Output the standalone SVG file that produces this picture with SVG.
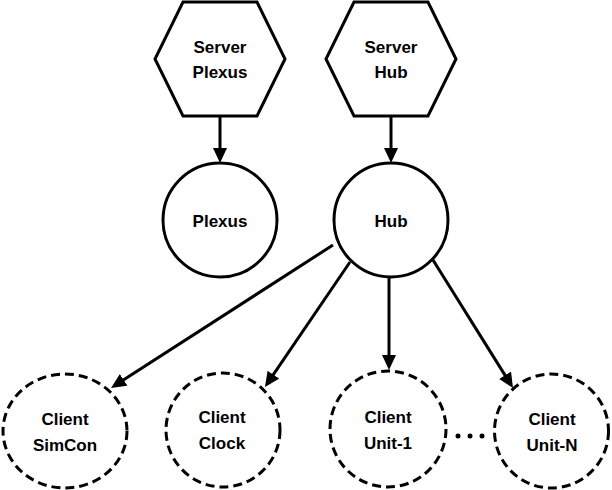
<svg xmlns="http://www.w3.org/2000/svg" width="612" height="490" viewBox="0 0 612 490">
<style>
.shape{fill:#fff;stroke:#000;stroke-width:3}
.dash{fill:#fff;stroke:#000;stroke-width:3;stroke-dasharray:9 5}
.lbl{font-family:"Liberation Sans",Arial,sans-serif;font-weight:bold;font-size:17px;text-anchor:middle;fill:#000}
.edge{stroke:#000;stroke-width:3;fill:none;marker-end:url(#arr)}
</style>
<defs>
<marker id="arr" markerUnits="userSpaceOnUse" markerWidth="16" markerHeight="15" refX="11" refY="7" orient="auto">
<path d="M0,0 L15,7 L0,14 z" fill="#000"/>
</marker>
</defs>
<rect width="612" height="490" fill="#fff"/>
<g id="connectors">
<line class="edge" x1="220" y1="117" x2="220" y2="159"/>
<line class="edge" x1="391" y1="117" x2="391" y2="159"/>
<line class="edge" x1="333" y1="245" x2="114.4" y2="385.8"/>
<line class="edge" x1="350" y1="262" x2="267.2" y2="383.7"/>
<line class="edge" x1="389" y1="277" x2="389" y2="366"/>
<line class="edge" x1="433" y1="260" x2="510.9" y2="384.6"/>
</g>
<g id="server-plexus">
<polygon class="shape" points="183,2 257,2 285,59 257,116 183,116 155,59"/>
<text class="lbl" x="220" y="53">Server</text>
<text class="lbl" x="220" y="78">Plexus</text>
</g>
<g id="server-hub">
<polygon class="shape" points="354,2 428,2 456,59 428,116 354,116 326,59"/>
<text class="lbl" x="391" y="53">Server</text>
<text class="lbl" x="391" y="78">Hub</text>
</g>
<g id="plexus">
<circle class="shape" cx="220" cy="220" r="57"/>
<text class="lbl" x="220" y="227">Plexus</text>
</g>
<g id="hub">
<circle class="shape" cx="391" cy="220" r="57"/>
<text class="lbl" x="391" y="227">Hub</text>
</g>
<g id="client-simcon">
<ellipse class="dash" cx="65" cy="431" rx="62" ry="57"/>
<text class="lbl" x="65" y="425">Client</text>
<text class="lbl" x="65" y="451">SimCon</text>
</g>
<g id="client-clock">
<circle class="dash" cx="223" cy="430" r="57"/>
<text class="lbl" x="222" y="423">Client</text>
<text class="lbl" x="222" y="449">Clock</text>
</g>
<g id="client-unit-1">
<circle class="dash" cx="388" cy="429" r="58"/>
<text class="lbl" x="388" y="423">Client</text>
<text class="lbl" x="388" y="449">Unit-1</text>
</g>
<g id="client-unit-n">
<circle class="dash" cx="551.5" cy="431" r="57"/>
<text class="lbl" x="552" y="425">Client</text>
<text class="lbl" x="552" y="451">Unit-N</text>
</g>
<g id="ellipsis">
<circle cx="458" cy="436" r="2.5" fill="#000"/>
<circle cx="470" cy="436" r="2.5" fill="#000"/>
<circle cx="482" cy="436" r="2.5" fill="#000"/>
</g>
</svg>
